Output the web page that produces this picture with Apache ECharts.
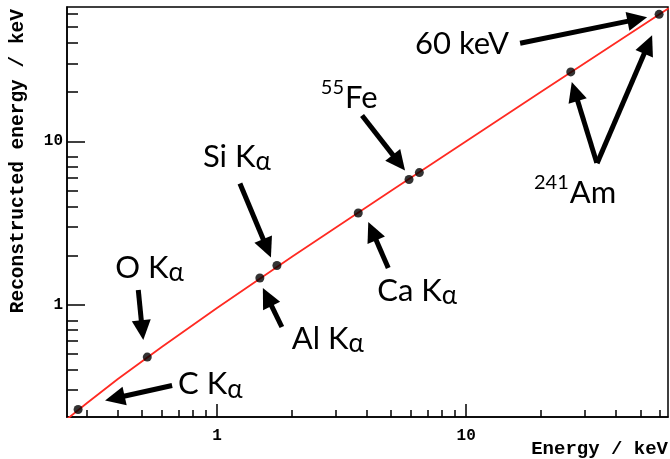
<!DOCTYPE html>
<html>
<head>
<meta charset="utf-8">
<script src="https://cdn.jsdelivr.net/npm/echarts@6/dist/echarts.min.js"></script>
<style>
  html, body { margin: 0; padding: 0; background: #fff; }
  #chart { width: 670px; height: 459px; }
</style>
</head>
<body>
<div id="chart"></div>
<script>
// Calibration lines: true energy vs reconstructed energy (keV)
const lineNames  = ['C Kα', 'O Kα', 'Al Kα', 'Si Kα', 'Ca Kα', '55Fe Kα', '55Fe Kβ', '241Am 26 keV', '241Am 60 keV'];
const trueEnergy = [0.277, 0.525, 1.486, 1.740, 3.69, 5.90, 6.49, 26.3, 59.5];
const recoEnergy = [0.228, 0.477, 1.455, 1.734, 3.64, 5.83, 6.43, 26.6, 59.9];

// Linear calibration fit, sampled along the plotted range
const fitEnergy = [0.25, 0.3, 0.4, 0.6, 1, 2, 5, 10, 20, 65];
const fitReco   = [0.199, 0.249, 0.350, 0.550, 0.953, 1.96, 4.97, 10.0, 20.1, 65.3];

// Axis ticks
const xMajorTicks = [1, 10];
const xMinorTicks = [0.3, 0.4, 0.5, 0.6, 0.7, 0.8, 0.9, 2, 3, 4, 5, 6, 7, 8, 9, 20, 30, 40, 50, 60];
const yMajorTicks = [1, 10];
const yMinorTicks = [0.3, 0.4, 0.5, 0.6, 0.7, 0.8, 2, 3, 4, 5, 6, 7, 8, 20, 30, 40, 50, 60];

const xTitle = 'Energy / keV';
const yTitle = 'Reconstructed energy / keV';

// Axis ranges
const X_MIN = 0.25, X_MAX = 64.6;
const Y_MIN = 0.205, Y_MAX = 66.4;

const MONO = '"Liberation Mono", "DejaVu Sans Mono", monospace';
const SANS = 'Lato, "Open Sans", sans-serif';

const chart = echarts.init(document.getElementById('chart'));

function tickAxis(kind, min, max, ticks, len, withLabel) {
  return {
    type: 'log',
    logBase: 10,
    min: min,
    max: max,
    position: kind === 'x' ? 'bottom' : 'left',
    axisLine: { show: withLabel, lineStyle: { color: '#000', width: 1.5 } },
    axisTick: { show: true, inside: true, length: len, customValues: ticks,
                lineStyle: { color: '#000', width: 1.5 } },
    axisLabel: { show: withLabel, customValues: ticks,
                 margin: kind === 'x' ? 11 : 4,
                 formatter: v => '{t|' + v + '}',
                 rich: { t: { fontFamily: MONO, fontWeight: 'bold', fontSize: 16, color: '#000' } } },
    splitLine: { show: false },
    minorTick: { show: false },
    minorSplitLine: { show: false }
  };
}

chart.setOption({
  animation: false,
  backgroundColor: '#fff',
  grid: {
    left: 67, top: 7, width: 601, height: 410,
    show: true, borderColor: '#000', borderWidth: 1.5,
    containLabel: false, outerBoundsMode: 'none'
  },
  xAxis: [
    tickAxis('x', X_MIN, X_MAX, xMajorTicks, 13, true),
    tickAxis('x', X_MIN, X_MAX, xMinorTicks, 7, false)
  ],
  yAxis: [
    tickAxis('y', Y_MIN, Y_MAX, yMajorTicks, 18, true),
    tickAxis('y', Y_MIN, Y_MAX, yMinorTicks, 11, false)
  ],
  series: [
    {
      name: 'fit',
      type: 'line',
      xAxisIndex: 0, yAxisIndex: 0,
      data: fitEnergy.map((e, i) => [e, fitReco[i]]),
      symbol: 'none',
      clip: true,
      lineStyle: { color: '#ff2a22', width: 1.8 },
      silent: true,
      z: 2
    },
    {
      name: 'lines',
      type: 'scatter',
      xAxisIndex: 0, yAxisIndex: 0,
      data: trueEnergy.map((e, i) => ({ name: lineNames[i], value: [e, recoEnergy[i]] })),
      symbol: 'circle',
      symbolSize: 9,
      itemStyle: { color: '#000' },
      z: 3
    }
  ]
});

// Annotation layout: pixel offsets from the marked point
const notes = [
  { pt: 0, tip: [27, -9],  tail: [94, -24],  text: 'C K',  sub: 'α', at: [100, -25] },
  { pt: 1, tip: [-4, -17], tail: [-9, -67],  text: 'O K',  sub: 'α', at: [-32, -89] },
  { pt: 2, tip: [3, 10],   tail: [22, 49],   text: 'Al K', sub: 'α', at: [32, 61] },
  { pt: 3, tip: [-6, -8],  tail: [-37, -82], text: 'Si K', sub: 'α', at: [-74, -109] },
  { pt: 4, tip: [10, 9],   tail: [30, 55],   text: 'Ca K', sub: 'α', at: [19, 78] },
  { pt: 5, tip: [-4, -9],  tail: [-47, -64], text: 'Fe',   sup: '55', at: [-64, -82] },
  { pt: 7, tip: [1, 10],   tail: [26, 91],   text: 'Am',   sup: '241', at: [-1, 121] },
  { pt: 8, tip: [-7, 21],  tail: [-62, 149] },
  { pt: 8, tip: [-12, 3],  tail: [-139, 29], text: '60 keV', at: [-244, 29.5] }
];

const MAIN_SIZE = 31, SUB_SIZE = 26, SUP_SIZE = 20;

const measureCtx = document.createElement('canvas').getContext('2d');
function textWidth(t, size) {
  measureCtx.font = size + 'px ' + SANS;
  return measureCtx.measureText(t).width;
}

function arrow(tail, tip) {
  const dx = tip[0] - tail[0], dy = tip[1] - tail[1];
  const L = Math.hypot(dx, dy), ux = dx / L, uy = dy / L;
  const hl = 20, hw = 9.5;
  const bx = tip[0] - ux * hl, by = tip[1] - uy * hl;
  return [
    { type: 'line', silent: true, z: 10,
      shape: { x1: tail[0], y1: tail[1], x2: bx + ux * 2, y2: by + uy * 2 },
      style: { stroke: '#000', lineWidth: 5 } },
    { type: 'polygon', silent: true, z: 10,
      shape: { points: [tip, [bx - uy * hw, by + ux * hw], [bx + uy * hw, by - ux * hw]] },
      style: { fill: '#000' } }
  ];
}

function txt(x, y, s, size, align) {
  return { type: 'text', silent: true, z: 10, x: x, y: y,
           style: { text: s, fontFamily: SANS, fontSize: size, fill: '#000',
                    align: align || 'left', verticalAlign: 'middle' } };
}

const elements = [];
notes.forEach(n => {
  const p = chart.convertToPixel({ seriesIndex: 1 }, [trueEnergy[n.pt], recoEnergy[n.pt]]);
  const tip = [p[0] + n.tip[0], p[1] + n.tip[1]];
  const tail = [p[0] + n.tail[0], p[1] + n.tail[1]];
  elements.push(...arrow(tail, tip));
  if (n.text) {
    const lx = p[0] + n.at[0], ly = p[1] + n.at[1];
    elements.push(txt(lx, ly, n.text, MAIN_SIZE));
    if (n.sub) {
      elements.push(txt(lx + textWidth(n.text, MAIN_SIZE), ly + 5, n.sub, SUB_SIZE));
    }
    if (n.sup) {
      elements.push(txt(lx - 1, ly - 10, n.sup, SUP_SIZE, 'right'));
    }
  }
});

// Axis titles
elements.push({ type: 'text', silent: true, x: 668, y: 449,
  style: { text: xTitle, fontFamily: MONO, fontWeight: 'bold', fontSize: 19, fill: '#000',
           align: 'right', verticalAlign: 'middle' } });
elements.push({ type: 'text', silent: true, x: 18, y: 9, rotation: Math.PI / 2,
  style: { text: yTitle, fontFamily: MONO, fontWeight: 'bold', fontSize: 19.5, fill: '#000',
           align: 'right', verticalAlign: 'middle' } });

chart.setOption({ graphic: { elements: elements } });
</script>
</body>
</html>
